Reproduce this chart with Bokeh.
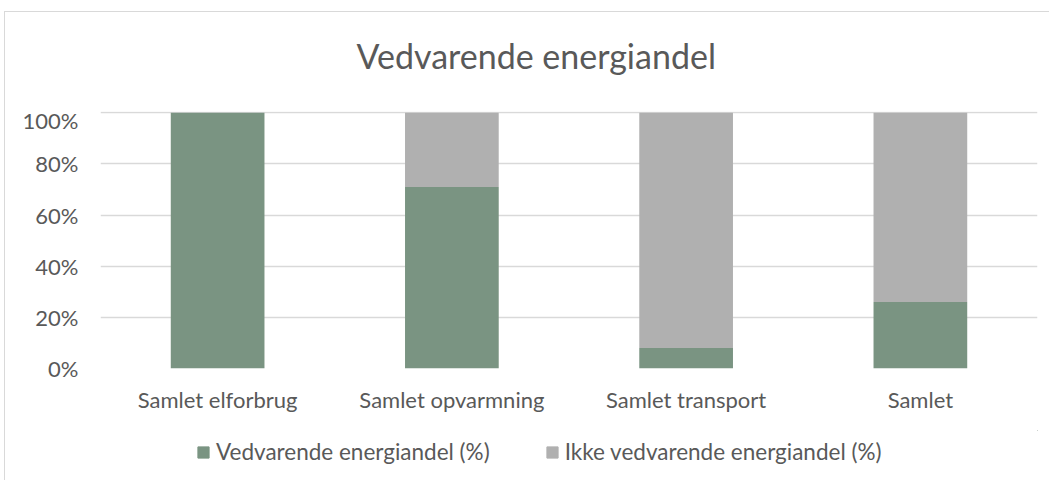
from bokeh.plotting import figure
from bokeh.layouts import column
from bokeh.core.properties import value
from bokeh.models import ColumnDataSource, FixedTicker, PrintfTickFormatter, Range1d, Legend, LegendItem
from bokeh.embed import file_html
from bokeh.resources import INLINE

title_text = "Vedvarende energiandel"
categories = ["Samlet elforbrug", "Samlet opvarmning", "Samlet transport", "Samlet"]
vedvarende = [100, 71, 8, 26]
ikke_vedvarende = [0, 29, 92, 74]
series_names = ["Vedvarende energiandel (%)", "Ikke vedvarende energiandel (%)"]
y_ticks = [0, 20, 40, 60, 80, 100]

GREEN = "#7a9482"
GRAY = "#b0b0b0"
TXT = "#595959"
FONT = "Lato"
W = 1044


def strip(height):
    f = figure(width=W, height=height, output_backend="svg", toolbar_location=None,
               x_range=Range1d(0, 1), y_range=Range1d(0, 1),
               x_axis_location=None, y_axis_location=None,
               min_border_left=0, min_border_right=0, min_border_top=0, min_border_bottom=0)
    f.grid.visible = False
    f.outline_line_color = None
    f.border_fill_color = "white"
    f.background_fill_color = "white"
    return f


# title strip (its frame is aligned with the chart frame by the column layout)
t = strip(94)
t.text(x=[0.465], y=[0.54], text=[title_text], text_align="center", text_baseline="alphabetic",
       text_font=value(FONT), text_font_size="34px", text_color=TXT)

# main chart
src = ColumnDataSource(dict(cat=categories, v=vedvarende, i=ikke_vedvarende))
p = figure(x_range=categories, y_range=Range1d(0, 100.5), width=W, height=324,
           output_backend="svg", toolbar_location=None,
           min_border_left=95, min_border_right=12, min_border_top=5, min_border_bottom=62)
r = p.vbar_stack(["v", "i"], x="cat", width=0.4, source=src, color=[GREEN, GRAY], line_color=None)

p.outline_line_color = None
p.background_fill_color = "white"
p.border_fill_color = "white"

p.yaxis.ticker = FixedTicker(ticks=y_ticks)
p.yaxis.formatter = PrintfTickFormatter(format="%d%%")
for ax in (p.xaxis, p.yaxis):
    ax.axis_line_color = None
    ax.major_tick_line_color = None
    ax.minor_tick_line_color = None
    ax.major_label_text_font = FONT
    ax.major_label_text_color = TXT
p.yaxis.major_label_text_font_size = "22px"
p.xaxis.major_label_text_font_size = "22px"
p.yaxis.major_label_standoff = 16
p.xaxis.major_label_standoff = 11

p.xgrid.grid_line_color = None
p.ygrid.ticker = FixedTicker(ticks=y_ticks)
p.ygrid.grid_line_color = "#d9d9d9"
p.ygrid.grid_line_width = 1.5

# legend strip below the chart (swatch glyphs lie outside its visible range)
lg = strip(50)
g1 = lg.vbar(x=[5], top=[5], bottom=[4], width=0.1, color=GREEN)
g2 = lg.vbar(x=[5], top=[5], bottom=[4], width=0.1, color=GRAY)
legend = Legend(items=[LegendItem(label=series_names[0], renderers=[g1]),
                       LegendItem(label=series_names[1], renderers=[g2])],
                orientation="horizontal", location=(96, 15),
                label_text_font=FONT, label_text_font_size="22.5px", label_text_color=TXT,
                glyph_width=14, glyph_height=14, label_standoff=6, spacing=55,
                border_line_color=None, background_fill_alpha=0, margin=0, padding=0)
lg.add_layout(legend, "center")

layout = column(t, p, lg, spacing=0, margin=(11, 0, 0, 4))
layout.styles = {"border-left": "1px solid #d9d9d9", "border-top": "1px solid #d9d9d9"}

open("out.html", "w").write(file_html(layout, INLINE))
